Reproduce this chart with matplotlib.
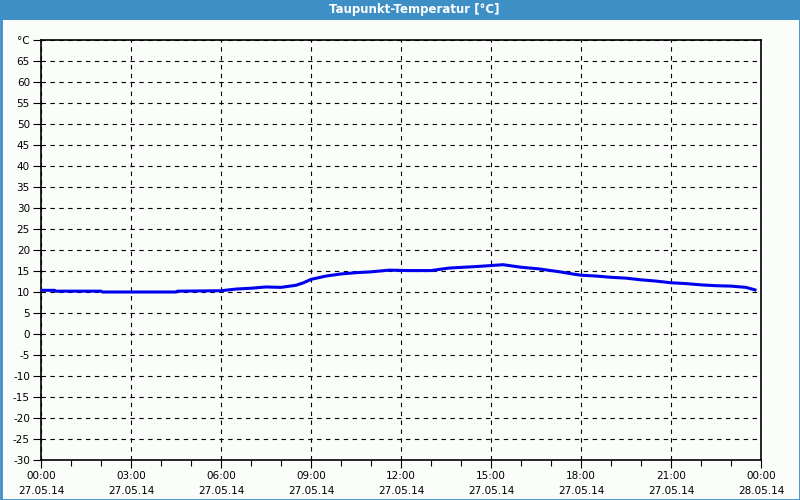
import matplotlib
matplotlib.use("Agg")
import matplotlib.pyplot as plt
from matplotlib.patches import Rectangle
from matplotlib.ticker import MultipleLocator, FixedLocator

title = "Taupunkt-Temperatur [°C]"
hours = [0, 0.45, 0.5, 2.0, 2.05, 4.5, 4.55, 6.0, 6.5, 7.0, 7.5, 8.0, 8.5, 8.75,
         9.0, 9.5, 10.0, 10.5, 11.0, 11.6, 12.3, 13.0, 13.6, 14.6, 15.4, 16.0,
         16.6, 17.3, 17.8, 18.0, 18.5, 19.0, 19.5, 20.0, 20.5, 21.0, 21.5, 22.0,
         22.5, 23.0, 23.5, 23.8]
dew = [10.4, 10.4, 10.2, 10.2, 10.0, 10.0, 10.2, 10.3, 10.7, 10.9, 11.2, 11.1, 11.6, 12.2,
       13.0, 13.8, 14.3, 14.6, 14.8, 15.2, 15.1, 15.1, 15.7, 16.1, 16.5, 15.9,
       15.5, 14.8, 14.2, 14.0, 13.8, 13.5, 13.3, 12.9, 12.6, 12.2, 12.0, 11.7,
       11.5, 11.4, 11.1, 10.5]
x_labels = ["00:00\n27.05.14", "03:00\n27.05.14", "06:00\n27.05.14", "09:00\n27.05.14",
            "12:00\n27.05.14", "15:00\n27.05.14", "18:00\n27.05.14", "21:00\n27.05.14",
            "00:00\n28.05.14"]
y_ticks = list(range(-30, 75, 5))
y_labels = [str(v) for v in y_ticks[:-1]] + ["°C"]

bg = "#fafdfa"
bar = "#3d8fc6"

fig = plt.figure(figsize=(8, 5), dpi=100, facecolor=bg)
# title bar and frame
fig.patches.append(Rectangle((0, 1 - 20/500), 1, 20/500, transform=fig.transFigure,
                             facecolor=bar, edgecolor="none", zorder=0))
fig.patches.append(Rectangle((0.5/800, 0.5/500), 1 - 1/800, 1 - 1/500, transform=fig.transFigure,
                             facecolor="none", edgecolor=bar, linewidth=2, zorder=0))
fig.text(414/800, 1 - 10/500, title, color="white", ha="center", va="center",
         fontsize=8.5, fontweight="bold")

ax = fig.add_axes([41/800, 40/500, 720/800, 420/500])
ax.set_facecolor(bg)
ax.plot(hours, dew, color="#0000ee", linewidth=2.2, solid_joinstyle="miter", zorder=3)
ax.set_xlim(0, 24)
ax.set_ylim(-30, 70)
ax.xaxis.set_major_locator(FixedLocator(list(range(0, 25, 3))))
ax.xaxis.set_minor_locator(MultipleLocator(1))
ax.set_xticklabels(x_labels, fontsize=7.5, linespacing=1.55)
ax.yaxis.set_major_locator(FixedLocator(y_ticks))
ax.set_yticklabels(y_labels, fontsize=7.5)
ax.grid(True, which="major", color="black", linestyle=(0, (4, 4)), linewidth=0.8)
ax.tick_params(axis="x", which="major", length=6, width=0.8, direction="out", pad=2)
ax.tick_params(axis="x", which="minor", length=4, width=0.8, direction="out")
ax.tick_params(axis="y", which="major", length=6, width=0.8, direction="out", pad=2)
for s in ax.spines.values():
    s.set_color("black")
    s.set_linewidth(1.2)

fig.savefig("out.png", dpi=100, facecolor=bg)
